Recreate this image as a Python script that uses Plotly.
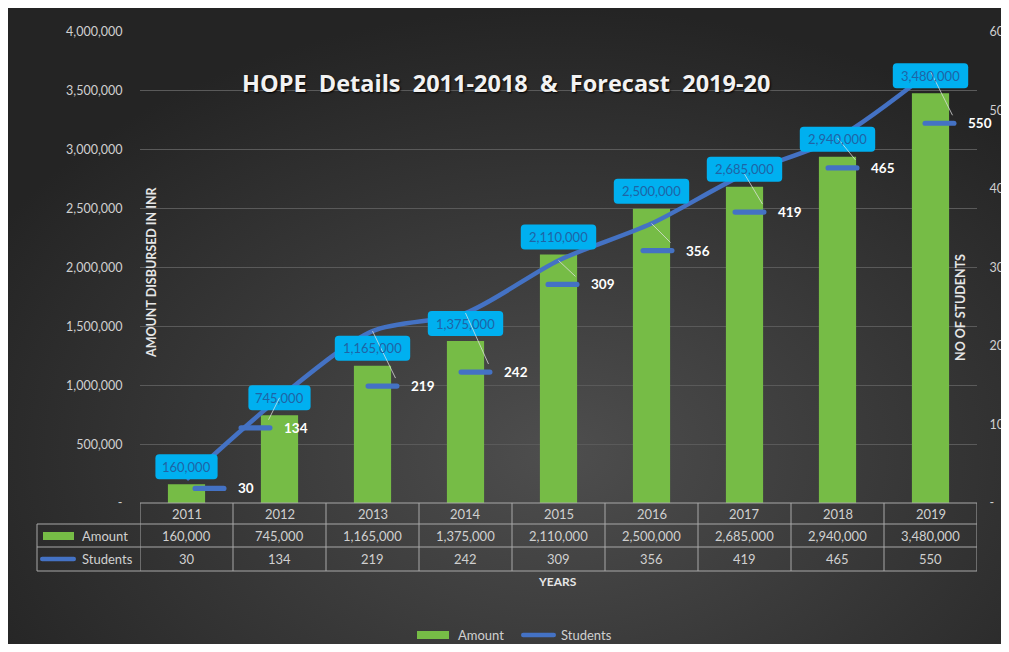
import plotly.graph_objects as go

# ---------------- data ----------------
years = ["2011", "2012", "2013", "2014", "2015", "2016", "2017", "2018", "2019"]
amount = [160000, 745000, 1165000, 1375000, 2110000, 2500000, 2685000, 2940000, 3480000]
students = [30, 134, 219, 242, 309, 356, 419, 465, 550]

amount_tickvals = [0, 500000, 1000000, 1500000, 2000000, 2500000, 3000000, 3500000, 4000000]
amount_ticktext = ["-", "500,000", "1,000,000", "1,500,000", "2,000,000", "2,500,000",
                   "3,000,000", "3,500,000", "4,000,000"]
student_tickvals = [0, 100, 200, 300, 400, 500, 600]
student_ticktext = ["-", "100", "200", "300", "400", "500", "600"]

title_text = "HOPE  Details  2011-2018  &  Forecast  2019-20"
left_title = "AMOUNT DISBURSED IN INR"
right_title = "NO OF STUDENTS"
x_title = "YEARS"
series_names = ["Amount", "Students"]

# ---------------- style / layout ----------------
# manual label offsets (pixels) for the student data labels
lab_dx = [6, -41, -7, -7, -13, -11, -12, -12, -8]
lab_dy = [9, 30, 55, 59, 24, 27, 38, 30, 52]

W, H, OFF = 1001, 636, 8
def fx(sx):
    return (sx - OFF) / W
def fy(sy):
    return 1 - (sy - OFF) / H

FONT = "Lato"
GREEN = "#76BC46"
BLUE = "#4472C4"
CYAN = "#00B0F0"
BOXTXT = "#1F64A6"
TXT = "#D0D0D0"
GRID = "#5A5A5A"
TBL = "#A8A8A8"

def rrect(x0, y0, x1, y1, r):
    return (f"M{x0+r},{y0} L{x1-r},{y0} Q{x1},{y0} {x1},{y0+r} L{x1},{y1-r} "
            f"Q{x1},{y1} {x1-r},{y1} L{x0+r},{y1} Q{x0},{y1} {x0},{y1-r} "
            f"L{x0},{y0+r} Q{x0},{y0} {x0+r},{y0} Z")

def pill(a, b, c, h):
    return (f"M{a+h},{c-h} L{b-h},{c-h} Q{b},{c-h} {b},{c} Q{b},{c+h} {b-h},{c+h} "
            f"L{a+h},{c+h} Q{a},{c+h} {a},{c} Q{a},{c-h} {a+h},{c-h} Z")

xpos = list(range(len(years)))  # category slots on the x axis

fig = go.Figure()

# background gradient on a full-paper hidden subplot
fig.add_trace(go.Scatter(
    x=[-0.1, 1.2, 1.2, -0.1, -0.1], y=[-0.4, -0.4, 1.0, 1.0, -0.4],
    xaxis="x", yaxis="y", mode="lines", line=dict(width=0),
    fill="toself",
    fillgradient=dict(type="radial", colorscale=[[0, "#4E4E4E"], [1, "#242424"]]),
    hoverinfo="skip", showlegend=False))

fig.add_trace(go.Bar(
    x=xpos, y=amount, name=series_names[0], xaxis="x2", yaxis="y2", width=0.4,
    marker=dict(color=GREEN, line=dict(width=0)), showlegend=False, hoverinfo="skip"))

fig.add_trace(go.Scatter(
    x=xpos, y=students, name=series_names[1], xaxis="x2", yaxis="y3",
    mode="lines", line=dict(color=BLUE, width=4.5, shape="spline", smoothing=0.8),
    showlegend=False, hoverinfo="skip"))

shapes = []
annotations = []

def ann(**kw):
    kw.setdefault("showarrow", False)
    kw.setdefault("xanchor", "center")
    kw.setdefault("yanchor", "middle")
    annotations.append(kw)

# amount data label boxes
for i, v in zip(xpos, amount):
    txt = f"{v:,}"
    w = 6.6 * len(txt) + 16
    shapes.append(dict(type="path", xref="x2", yref="y2", xsizemode="pixel", ysizemode="pixel",
                       xanchor=i, yanchor=v, path=rrect(-w / 2, 5, w / 2, 30, 4),
                       fillcolor=CYAN, line=dict(width=0), layer="above"))
    ann(x=i, y=v, xref="x2", yref="y2", yshift=17.5, text=txt,
        font=dict(family=FONT, size=13, color=BOXTXT))

# student data labels (legend key + value) and leader lines
for i, v, dx, dy in zip(xpos, students, lab_dx, lab_dy):
    if dy > 15:
        shapes.append(dict(type="line", xref="x2", yref="y3", xsizemode="pixel", ysizemode="pixel",
                           xanchor=i, yanchor=v, x0=0, y0=0, x1=dx + 30, y1=-(dy - 8),
                           line=dict(color="rgba(225,225,225,0.75)", width=1), layer="above"))
    shapes.append(dict(type="path", xref="x2", yref="y3", xsizemode="pixel", ysizemode="pixel",
                       xanchor=i, yanchor=v, path=pill(dx, dx + 34, -dy, 2.6),
                       fillcolor=BLUE, line=dict(width=0), layer="above"))
    ann(x=i, y=v, xref="x2", yref="y3", xshift=dx + 43, yshift=-dy,
        xanchor="left", text=str(v),
        font=dict(family=FONT, size=13.5, color="#FFFFFF", weight="bold"))

# data table
tl, tr = fx(140), fx(977)
r0, r1, r2, r3 = fy(503), fy(524), fy(547), fy(571)
lc = fx(37)
tline = dict(color=TBL, width=1)
shapes.append(dict(type="line", xref="paper", yref="paper", x0=tl, x1=tr, y0=r0, y1=r0, line=tline))
for r in (r1, r2, r3):
    shapes.append(dict(type="line", xref="paper", yref="paper", x0=lc, x1=tr, y0=r, y1=r, line=tline))
shapes.append(dict(type="line", xref="paper", yref="paper", x0=lc, x1=lc, y0=r1, y1=r3, line=tline))
for k in range(len(years) + 1):
    shapes.append(dict(type="line", xref="x2", yref="paper", x0=k - 0.5, x1=k - 0.5,
                       y0=r0, y1=r3, line=tline))
for i, yr, a, s in zip(xpos, years, amount, students):
    for txt, ry in ((yr, (r0 + r1) / 2), (f"{a:,}", (r1 + r2) / 2), (str(s), (r2 + r3) / 2)):
        ann(x=i, y=ry, xref="x2", yref="paper", text=txt,
            font=dict(family=FONT, size=13, color=TXT))
# table row keys
shapes.append(dict(type="rect", xref="paper", yref="paper", x0=fx(43), x1=fx(74),
                   y0=fy(540), y1=fy(532), fillcolor=GREEN, line=dict(width=0)))
shapes.append(dict(type="path", xref="paper", yref="paper", xsizemode="pixel", ysizemode="pixel",
                   xanchor=fx(40), yanchor=fy(559), path=pill(0, 36, 0, 2.2),
                   fillcolor=BLUE, line=dict(width=0)))
ann(x=fx(80), y=(r1 + r2) / 2, xref="paper", yref="paper", xanchor="left",
    text=series_names[0], font=dict(family=FONT, size=13, color=TXT))
ann(x=fx(80), y=(r2 + r3) / 2, xref="paper", yref="paper", xanchor="left",
    text=series_names[1], font=dict(family=FONT, size=13, color=TXT))

# bottom legend
shapes.append(dict(type="rect", xref="paper", yref="paper", x0=fx(417), x1=fx(449),
                   y0=fy(639), y1=fy(631), fillcolor=GREEN, line=dict(width=0)))
shapes.append(dict(type="path", xref="paper", yref="paper", xsizemode="pixel", ysizemode="pixel",
                   xanchor=fx(521), yanchor=fy(635), path=pill(0, 35, 0, 2.2),
                   fillcolor=BLUE, line=dict(width=0)))
ann(x=fx(456), y=fy(635), xref="paper", yref="paper", xanchor="left",
    text=series_names[0], font=dict(family=FONT, size=13, color=TXT))
ann(x=fx(559), y=fy(635), xref="paper", yref="paper", xanchor="left",
    text=series_names[1], font=dict(family=FONT, size=13, color=TXT))

# titles
ann(x=fx(506), y=fy(83), xref="paper", yref="paper", text=title_text,
    font=dict(family="Open Sans", size=23.5, color="#F2F2F2", weight="bold",
              shadow="1px 1px 2px #000"))
ann(x=fx(151), y=fy(272), xref="paper", yref="paper", text=left_title, textangle=-90,
    font=dict(family=FONT, size=12.5, color="#E6E6E6", weight="bold"))
ann(x=fx(960), y=fy(308), xref="paper", yref="paper", text=right_title, textangle=-90,
    font=dict(family=FONT, size=12.5, color="#E6E6E6", weight="bold"))
ann(x=fx(557), y=fy(581), xref="paper", yref="paper", text=x_title,
    font=dict(family=FONT, size=12, color="#E6E6E6", weight="bold"))

fig.update_layout(
    width=W, height=H,
    margin=dict(l=0, r=0, t=0, b=0, autoexpand=False),
    paper_bgcolor="#303030",
    plot_bgcolor="rgba(0,0,0,0)",
    showlegend=False,
    font=dict(family=FONT, color=TXT),
    xaxis=dict(domain=[0, 1], range=[0, 1], visible=False, fixedrange=True, automargin=False),
    yaxis=dict(domain=[0, 1], range=[0, 1], visible=False, fixedrange=True, automargin=False),
    xaxis2=dict(domain=[fx(140), fx(977)], anchor="y2", type="linear", range=[-0.5, 8.5],
                showticklabels=False, showgrid=False, zeroline=False, showline=False, ticks="",
                automargin=False),
    yaxis2=dict(domain=[fy(503), fy(32)], anchor="x2", range=[0, 4000000],
                tickvals=amount_tickvals, ticktext=amount_ticktext, automargin=False,
                showgrid=True, gridcolor=GRID, gridwidth=1, zeroline=False, showline=False,
                ticks="outside", ticklen=14, tickcolor="rgba(0,0,0,0)",
                tickfont=dict(family=FONT, size=12.5, color=TXT)),
    yaxis3=dict(overlaying="y2", side="right", anchor="x2", range=[0, 600],
                tickvals=student_tickvals, ticktext=student_ticktext, automargin=False,
                showgrid=False, zeroline=False, showline=False,
                ticks="outside", ticklen=9, tickcolor="rgba(0,0,0,0)",
                tickfont=dict(family=FONT, size=12.5, color=TXT)),
    shapes=shapes,
    annotations=annotations,
)

fig.write_html("out.html", config={"displayModeBar": False})
